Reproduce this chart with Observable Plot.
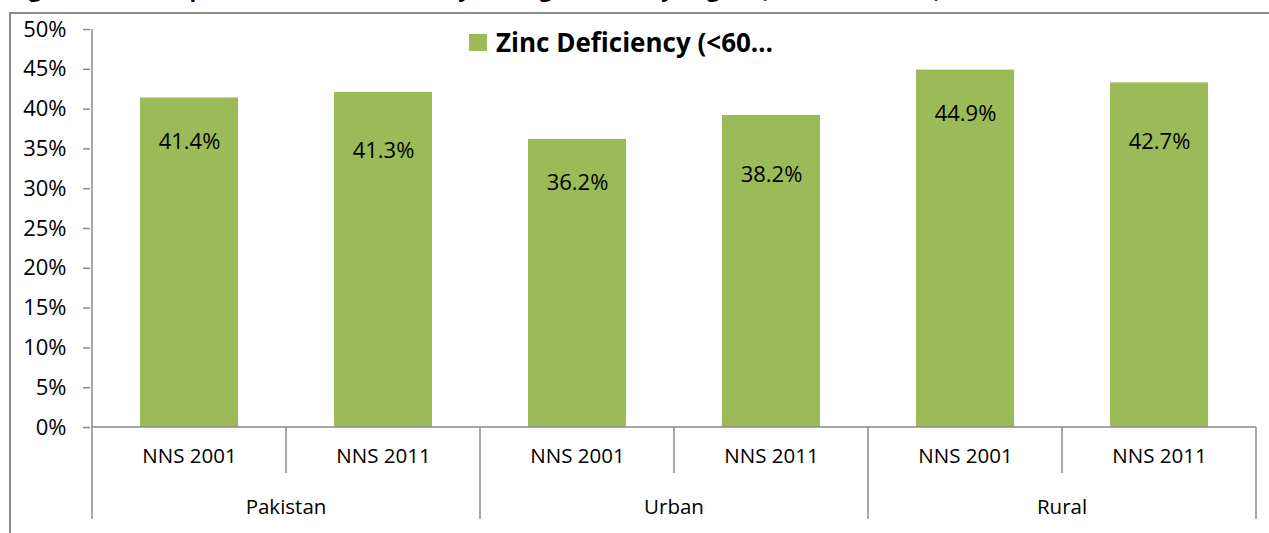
<!DOCTYPE html>
<html>
<head>
<meta charset="utf-8">
<script src="https://cdn.jsdelivr.net/npm/d3@7"></script>
<script src="https://cdn.jsdelivr.net/npm/@observablehq/plot@0.6"></script>
<style>
  html, body { margin: 0; padding: 0; background: #fff; }
  #wrap { position: relative; width: 1269px; height: 533px; overflow: hidden; font-family: "Open Sans", sans-serif; }
  #title { position: absolute; left: 10px; top: -23px; font: bold 22px/1 "Open Sans", sans-serif; color: #000; white-space: nowrap; }
  #frame { position: absolute; left: 9px; top: 12px; right: -5px; bottom: -5px; border-top: 2px solid #8a8a8a; border-left: 2px solid #8a8a8a; }
  #chart { position: absolute; left: 0; top: 13px; }
  #legend { position: absolute; left: 469px; top: 29px; font: bold 26px/1 "Open Sans", sans-serif; color: #000; white-space: nowrap; }
  #legend .sw { display: inline-block; width: 18px; height: 17px; background: #9BBB59; margin-right: 9px; vertical-align: 1px; }
  #chart g[aria-label^="y-axis"] line, #chart g[aria-label="y-axis tick"] path { stroke: #8a8a8a; stroke-width: 1.5; }
</style>
</head>
<body>
<div id="wrap">
  <div id="title">Figure 4.12: Comparison of Zinc Deficiency among Women by Region (NNS 2001, 2011)</div>
  <div id="frame"></div>
  <div id="chart"></div>
  <div id="legend"><span class="sw"></span><span id="legendText"></span></div>
</div>
<script>
// ---- data ----
const regions = ["Pakistan", "Urban", "Rural"];
const surveys = ["NNS 2001", "NNS 2011"];
const barValues = [41.4, 42.1, 36.2, 39.2, 44.9, 43.3];
const labelValues = ["41.4%", "41.3%", "36.2%", "38.2%", "44.9%", "42.7%"];
const yTicks = [0, 5, 10, 15, 20, 25, 30, 35, 40, 45, 50];
const seriesName = "Zinc Deficiency (<60…";

document.getElementById("legendText").textContent = seriesName;

const data = regions.flatMap((r, i) => surveys.map((s, j) => ({
  region: r, survey: s, key: r + "|" + s,
  value: barValues[i * 2 + j], label: labelValues[i * 2 + j]
})));
const keys = data.map(d => d.key);

const lineColor = "#8a8a8a";

function dividers(index, scales, values, dimensions) {
  const x = scales.x, y = scales.y;
  const bw = x.bandwidth ? x.bandwidth() : (dimensions.width - dimensions.marginLeft - dimensions.marginRight) / keys.length;
  const y0 = y(0);
  const g = d3.create("svg:g");
  const left = x(keys[0]);
  const right = x(keys[keys.length - 1]) + bw;
  // y axis line
  g.append("line").attr("x1", left).attr("x2", left).attr("y1", y(50)).attr("y2", y0 + 92)
    .attr("stroke", lineColor).attr("stroke-width", 1.5);
  // x axis line
  g.append("line").attr("x1", left).attr("x2", right).attr("y1", y0).attr("y2", y0)
    .attr("stroke", lineColor).attr("stroke-width", 1.5);
  // category boundaries
  keys.forEach((k, i) => {
    if (i === 0) return;
    const xx = x(k);
    const len = (i % surveys.length === 0) ? 92 : 46;
    g.append("line").attr("x1", xx).attr("x2", xx).attr("y1", y0).attr("y2", y0 + len)
      .attr("stroke", lineColor).attr("stroke-width", 1.5);
  });
  g.append("line").attr("x1", right).attr("x2", right).attr("y1", y0).attr("y2", y0 + 92)
    .attr("stroke", lineColor).attr("stroke-width", 1.5);
  // group labels
  regions.forEach(r => {
    const ks = keys.filter(k => k.startsWith(r + "|"));
    const cx = (x(ks[0]) + x(ks[ks.length - 1]) + bw) / 2;
    g.append("text").attr("x", cx).attr("y", y0 + 82).attr("text-anchor", "middle")
      .attr("dominant-baseline", "middle").attr("font-size", 20.5).attr("fill", "#000").text(r);
  });
  return g.node();
}

const chart = Plot.plot({
  width: 1269,
  height: 520,
  marginTop: 16,
  marginBottom: 106,
  marginLeft: 90,
  marginRight: 12,
  style: { fontFamily: "Open Sans, sans-serif", fontSize: "22px", color: "#000", background: "transparent", overflow: "visible" },
  x: { domain: keys, padding: 0, axis: null },
  y: { domain: [0, 50], ticks: yTicks, tickFormat: d => d + "%", tickSize: 7, tickPadding: 17, label: null },
  marks: [
    Plot.barY(data, { x: "key", y: "value", fill: "#9BBB59", insetLeft: 48, insetRight: 48 }),
    Plot.text(data.filter(d => d.survey === surveys[0]), { x: "key", y: "value", text: "label", dy: 44, fontSize: 22, fill: "#000" }),
    Plot.text(data.filter(d => d.survey === surveys[1]), { x: "key", y: "value", text: "label", dy: 59, fontSize: 22, fill: "#000" }),
    Plot.text(data, { x: "key", text: "survey", frameAnchor: "bottom", dy: 35, fontSize: 20.5, fill: "#000" }),
    dividers
  ]
});
document.getElementById("chart").appendChild(chart);
</script>
</body>
</html>
